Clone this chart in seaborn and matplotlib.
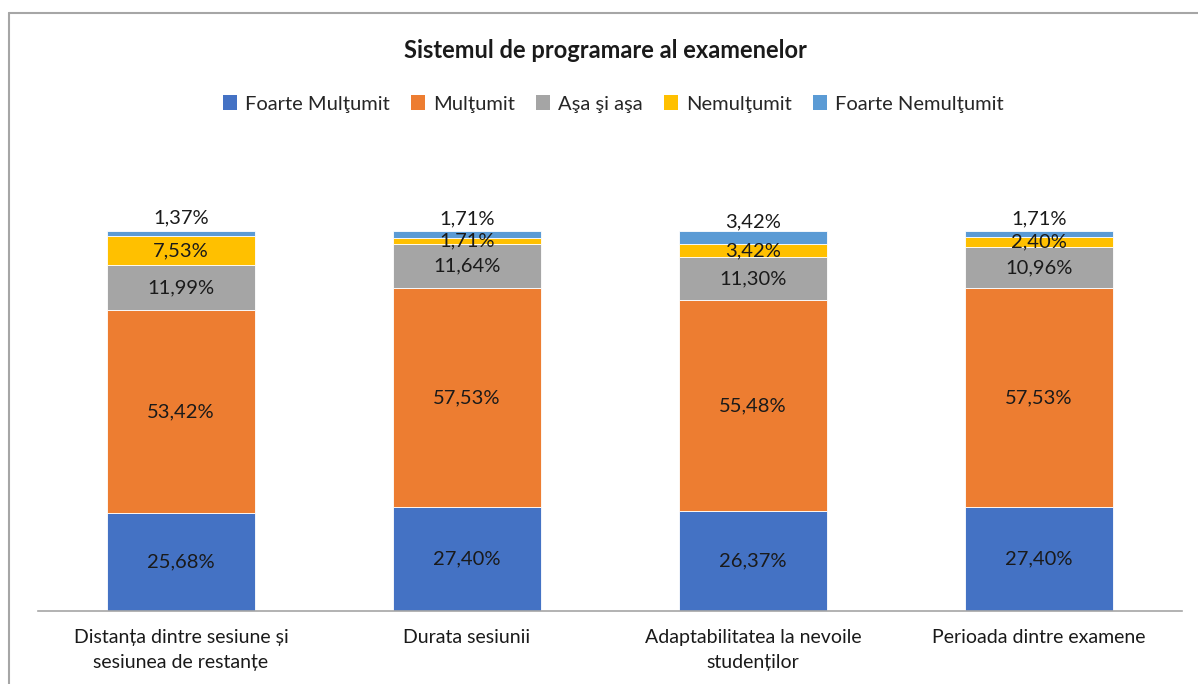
import numpy as np
import matplotlib.pyplot as plt
import seaborn as sns
from matplotlib.lines import Line2D
from matplotlib.patches import Patch

categories = ["Distanța dintre sesiune și\nsesiunea de restanțe",
              "Durata sesiunii",
              "Adaptabilitatea la nevoile\nstudenților",
              "Perioada dintre examene"]
series = ["Foarte Mulţumit", "Mulţumit", "Aşa şi aşa", "Nemulţumit", "Foarte Nemulţumit"]
foarte_multumit = [25.68, 27.40, 26.37, 27.40]
multumit = [53.42, 57.53, 55.48, 57.53]
asa_si_asa = [11.99, 11.64, 11.30, 10.96]
nemultumit = [7.53, 1.71, 3.42, 2.40]
foarte_nemultumit = [1.37, 1.71, 3.42, 1.71]
colors = ["#4472C4", "#ED7D31", "#A5A5A5", "#FFC000", "#5B9BD5"]

sns.set_theme(style="white")
plt.rcParams['font.family'] = ['Lato', 'DejaVu Sans']

fig = plt.figure(figsize=(11.98, 6.84), dpi=100)
ax = fig.add_axes([38 / 1198, 1 - 611 / 684, 1144 / 1198, 380 / 684])

values = [foarte_multumit, multumit, asa_si_asa, nemultumit, foarte_nemultumit]
bottom = np.zeros(len(categories))
for i, (name, vals, c) in enumerate(zip(series, values, colors)):
    vals = np.array(vals)
    sns.barplot(x=categories, y=vals, bottom=bottom, color=c, width=0.517,
                saturation=1, edgecolor="white", linewidth=0.6, ax=ax)
    for j, v in enumerate(vals):
        txt = f"{v:.2f}".replace(".", ",") + "%"
        yc = bottom[j] + v / 2
        up = 11 if i == len(series) - 1 else 0
        ax.annotate(txt, (j, yc), xytext=(0, up), textcoords="offset points",
                    ha="center", va="center", fontsize=14.5, color="#1a1a1a")
    bottom += vals

ax.set_xlim(-0.5, 3.5)
ax.set_ylim(0, 100)
ax.set_yticks([])
ax.set_ylabel("")
for s in ["left", "right", "top"]:
    ax.spines[s].set_visible(False)
ax.spines["bottom"].set_color("#A6A6A6")
ax.spines["bottom"].set_linewidth(1.2)
ax.tick_params(axis="x", length=0, pad=13, labelsize=14, labelcolor="#1a1a1a")
for lab in ax.get_xticklabels():
    lab.set_linespacing(1.55)

fig.text(0.505, 1 - 50 / 684, "Sistemul de programare al examenelor",
         ha="center", va="center", fontsize=17, fontweight="bold", color="#1a1a1a")

handles = [Patch(facecolor=c, edgecolor="none") for c in colors]
fig.legend(handles, series, loc="center", bbox_to_anchor=(0.512, 1 - 104 / 684),
           ncol=5, frameon=False, fontsize=14.5, handlelength=0.7, handleheight=0.7,
           handletextpad=0.4, columnspacing=1.05)

# chart border (left and top edges visible)
fig.add_artist(Line2D([9 / 1198, 9 / 1198], [0, 1 - 13 / 684], transform=fig.transFigure,
                      color="#A6A6A6", linewidth=1.5))
fig.add_artist(Line2D([9 / 1198, 1], [1 - 13 / 684, 1 - 13 / 684], transform=fig.transFigure,
                      color="#A6A6A6", linewidth=1.5))

fig.savefig("out.png", dpi=100)
